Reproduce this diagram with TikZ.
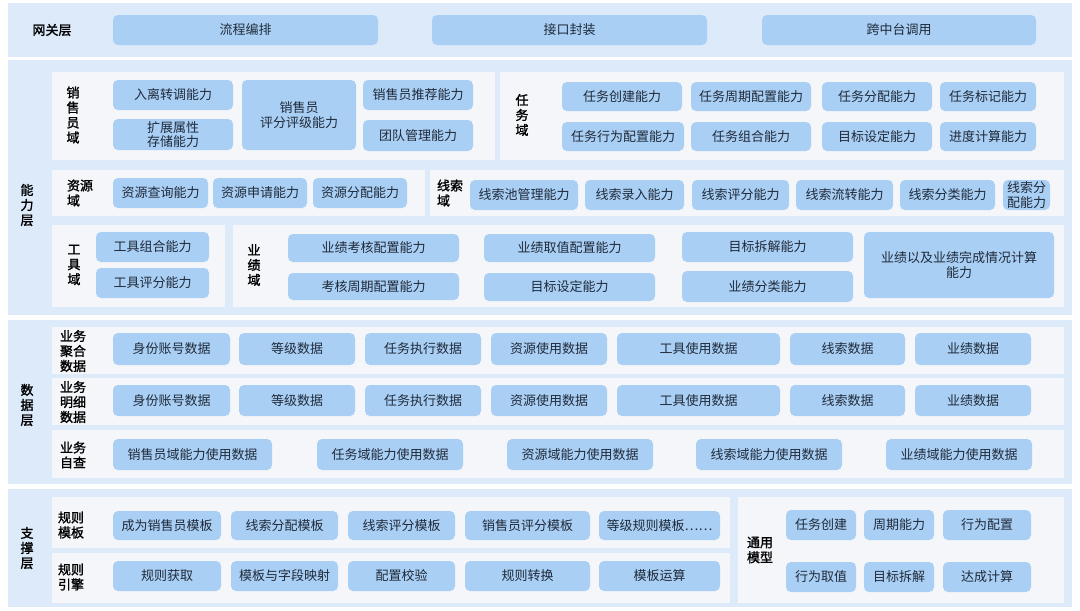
\documentclass[tikz,border=0pt]{standalone}
\usepackage{fontspec}
\setmainfont{Noto Sans CJK SC}
\newfontfamily\cjkb[FakeBold=1.5]{Noto Sans CJK SC}
\definecolor{band}{HTML}{DCEAFA}
\definecolor{panel}{HTML}{F4F6F9}
\definecolor{boxc}{HTML}{AACFF4}
\definecolor{txt}{HTML}{1F2A3A}
\tikzset{
 boxn/.style={fill=boxc,rounded corners=5pt,inner sep=0pt,align=center,font=\fontsize{13}{14.5}\selectfont,text=txt},
 bandn/.style={fill=band,inner sep=0pt},
 paneln/.style={fill=panel,inner sep=0pt},
 lab/.style={font=\cjkb\fontsize{13}{15}\selectfont,align=center,text=black,inner sep=0pt}
}
\newcommand\bx[6]{\node[boxn,minimum width={#4-#2},minimum height={#5-#3}] (#1) at ({(#2+#4)/2},{(#3+#5)/2}) {#6};}
\newcommand\rg[6]{\node[#6,minimum width={#4-#2},minimum height={#5-#3}] (#1) at ({(#2+#4)/2},{(#3+#5)/2}) {};}
\begin{document}
\begin{tikzpicture}[x=1pt,y=-1pt]
\useasboundingbox[fill=white] (0,0) rectangle (1080,611);
% bands
\rg{bg}{8}{3}{1072}{57}{bandn}
\rg{ba}{8}{60}{1072}{315}{bandn}
\rg{bd}{8}{320}{1072}{484}{bandn}
\rg{bs}{8}{489}{1072}{607}{bandn}
\node[lab] (lg) at (52,30) {网关层};
\node[lab] (la) at (27,205) {能\\力\\层};
\node[lab] (ld) at (27,405) {数\\据\\层};
\node[lab] (ls) at (27,548) {支\\撑\\层};
\bx{g1}{113}{15}{378}{45}{流程编排}
\bx{g2}{432}{15}{707}{45}{接口封装}
\bx{g3}{762}{15}{1036}{45}{跨中台调用}
% panels ability
\rg{p1}{52}{72}{495}{160}{paneln}
\rg{p2}{500}{72}{1064}{160}{paneln}
\rg{p3}{52}{170}{425}{216}{paneln}
\rg{p4}{430}{170}{1064}{216}{paneln}
\rg{p5}{52}{225}{225}{307}{paneln}
\rg{p6}{233}{225}{1064}{307}{paneln}
\node[lab] (l1) at (73,115) {销\\售\\员\\域};
\bx{a1}{113}{80}{233}{110}{入离转调能力}
\bx{a2}{113}{119}{233}{150}{扩展属性\\存储能力}
\bx{a3}{242}{80}{356}{150}{销售员\\评分评级能力}
\bx{a4}{363}{80}{473}{110}{销售员推荐能力}
\bx{a5}{363}{120}{473}{151}{团队管理能力}
\node[lab] (l2) at (522,115) {任\\务\\域};
\bx{t1}{562}{82}{682}{111}{任务创建能力}
\bx{t2}{691}{82}{811}{111}{任务周期配置能力}
\bx{t3}{822}{82}{932}{111}{任务分配能力}
\bx{t4}{940}{82}{1036}{111}{任务标记能力}
\bx{t5}{562}{122}{684}{151}{任务行为配置能力}
\bx{t6}{691}{122}{811}{151}{任务组合能力}
\bx{t7}{822}{122}{932}{151}{目标设定能力}
\bx{t8}{940}{122}{1036}{151}{进度计算能力}
\node[lab,align=left] (l3) at (80,193) {资源\\域};
\bx{r1}{113}{178}{208}{208}{资源查询能力}
\bx{r2}{213}{178}{307}{208}{资源申请能力}
\bx{r3}{313}{178}{407}{208}{资源分配能力}
\node[lab,align=left] (l4) at (450,193) {线索\\域};
\bx{x1}{470}{180}{578}{210}{线索池管理能力}
\bx{x2}{585}{180}{684}{210}{线索录入能力}
\bx{x3}{692}{180}{789}{210}{线索评分能力}
\bx{x4}{796}{180}{893}{210}{线索流转能力}
\bx{x5}{900}{180}{995}{210}{线索分类能力}
\bx{x6}{1003}{180}{1050}{210}{线索分\\配能力}
\node[lab] (l5) at (74,265) {工\\具\\域};
\bx{k1}{96}{232}{209}{262}{工具组合能力}
\bx{k2}{96}{268}{209}{298}{工具评分能力}
\node[lab] (l6) at (254,265) {业\\绩\\域};
\bx{y1}{288}{234}{459}{262}{业绩考核配置能力}
\bx{y2}{288}{273}{459}{300}{考核周期配置能力}
\bx{y3}{484}{234}{655}{262}{业绩取值配置能力}
\bx{y4}{484}{273}{655}{301}{目标设定能力}
\bx{y5}{682}{232}{853}{262}{目标拆解能力}
\bx{y6}{682}{271}{853}{302}{业绩分类能力}
\bx{y7}{864}{232}{1054}{298}{业绩以及业绩完成情况计算\\能力}
% data
\rg{q1}{52}{327}{1064}{374}{paneln}
\rg{q2}{52}{378}{1064}{425}{paneln}
\rg{q3}{52}{430}{1064}{478}{paneln}
\node[lab] (m1) at (73,351) {业务\\聚合\\数据};
\node[lab] (m2) at (73,402) {业务\\明细\\数据};
\node[lab] (m3) at (73,455) {业务\\自查};
\foreach \r/\ya/\yb in {1/333/365,2/385/416}{
\bx{d\r a}{113}{\ya}{230}{\yb}{身份账号数据}
\bx{d\r b}{239}{\ya}{355}{\yb}{等级数据}
\bx{d\r c}{365}{\ya}{481}{\yb}{任务执行数据}
\bx{d\r d}{491}{\ya}{607}{\yb}{资源使用数据}
\bx{d\r e}{617}{\ya}{780}{\yb}{工具使用数据}
\bx{d\r f}{790}{\ya}{905}{\yb}{线索数据}
\bx{d\r g}{915}{\ya}{1031}{\yb}{业绩数据}
}
\bx{e1}{113}{439}{272}{470}{销售员域能力使用数据}
\bx{e2}{317}{439}{463}{470}{任务域能力使用数据}
\bx{e3}{507}{439}{653}{470}{资源域能力使用数据}
\bx{e4}{696}{439}{842}{470}{线索域能力使用数据}
\bx{e5}{886}{439}{1032}{470}{业绩域能力使用数据}
% support
\rg{s1}{52}{497}{730}{548}{paneln}
\rg{s2}{52}{553}{730}{603}{paneln}
\rg{s3}{738}{497}{1064}{603}{paneln}
\node[lab] (n1) at (71,525) {规则\\模板};
\node[lab] (n2) at (71,577) {规则\\引擎};
\bx{u1}{113}{511}{221}{540}{成为销售员模板}
\bx{u2}{231}{511}{338}{540}{线索分配模板}
\bx{u3}{348}{511}{455}{540}{线索评分模板}
\bx{u4}{465}{511}{590}{540}{销售员评分模板}
\bx{u5}{599}{511}{720}{540}{等级规则模板……}
\bx{v1}{113}{561}{221}{591}{规则获取}
\bx{v2}{231}{561}{338}{591}{模板与字段映射}
\bx{v3}{348}{561}{455}{591}{配置校验}
\bx{v4}{465}{561}{590}{591}{规则转换}
\bx{v5}{599}{561}{720}{591}{模板运算}
\node[lab] (n3) at (760,550) {通用\\模型};
\bx{w1}{786}{510}{856}{540}{任务创建}
\bx{w2}{864}{510}{934}{540}{周期能力}
\bx{w3}{943}{510}{1031}{540}{行为配置}
\bx{w4}{786}{562}{856}{592}{行为取值}
\bx{w5}{864}{562}{934}{592}{目标拆解}
\bx{w6}{943}{562}{1031}{592}{达成计算}
\end{tikzpicture}
\end{document}
